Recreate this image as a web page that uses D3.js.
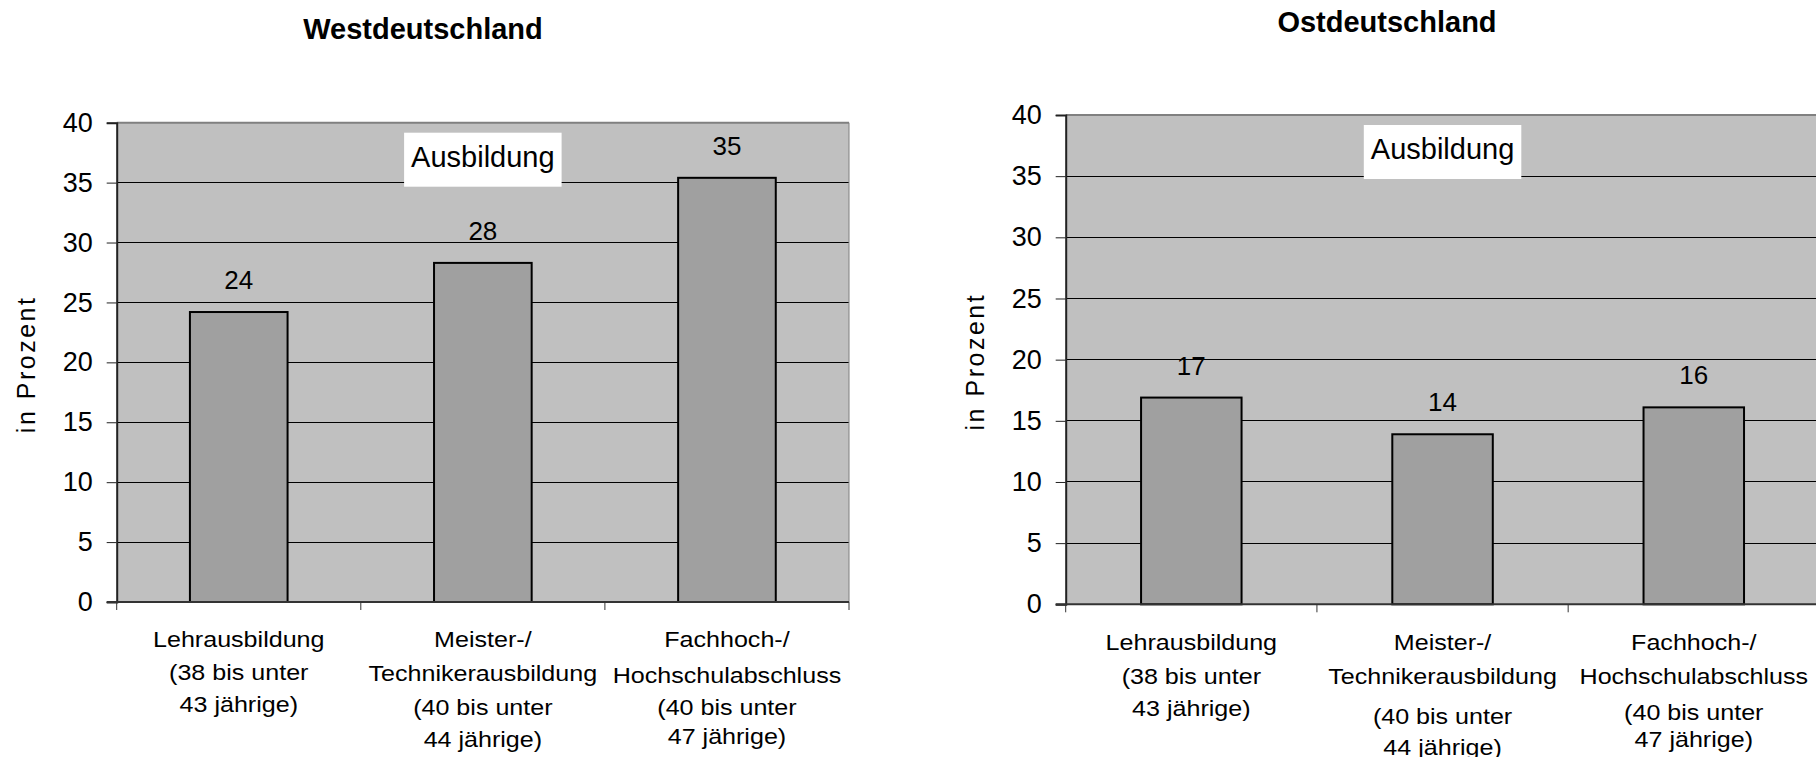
<!DOCTYPE html>
<html>
<head>
<meta charset="utf-8">
<script src="https://cdn.jsdelivr.net/npm/d3@7"></script>
<style>
  html, body { margin: 0; padding: 0; background: #fff; }
  svg { display: block; }
  text { font-family: "Liberation Sans", Arial, Helvetica, sans-serif; fill: #000; }
</style>
</head>
<body>
<svg id="chart" width="1816" height="757"></svg>
<script>
// ---------------- data ----------------
const categories = ["Lehrausbildung", "Meister-/Technikerausbildung", "Fachhoch-/Hochschulabschluss"];
const categoryNameLines = [["Lehrausbildung"], ["Meister-/", "Technikerausbildung"], ["Fachhoch-/", "Hochschulabschluss"]];
const categoryAgeLines = [["(38 bis unter", "43 jährige)"], ["(40 bis unter", "44 jährige)"], ["(40 bis unter", "47 jährige)"]];
const westValues = [24.2, 28.3, 35.4];
const ostValues = [16.9, 13.9, 16.1];
const yTicks = [0, 5, 10, 15, 20, 25, 30, 35, 40];
const yDomain = [0, 40];
const yAxisTitle = "in Prozent";
const boxLabel = "Ausbildung";
const titles = ["Westdeutschland", "Ostdeutschland"];

// ---------------- layout ----------------
const panels = [
  { title: titles[0], values: westValues, titleX: 423, titleY: 39,
    x0: 116.7, x1: 849, yTop: 122.7, yZero: 602,
    lineY: [[647, 680, 712], [647, 681, 715, 747], [647, 683, 715, 744]] },
  { title: titles[1], values: ostValues, titleX: 1387, titleY: 31.5,
    x0: 1065.7, x1: 1819.4, yTop: 115, yZero: 604.3,
    lineY: [[650, 684, 716], [650, 684, 724, 755], [650, 684, 720, 747]] }
];

const svg = d3.select("#chart");
const fmt = d3.format(".0f");

panels.forEach(p => {
  const g = svg.append("g");
  const x = d3.scaleBand().domain(categories).range([p.x0, p.x1])
    .paddingInner(0.6).paddingOuter(0.3);
  const y = d3.scaleLinear().domain(yDomain).range([p.yZero, p.yTop]);
  const step = x.step();
  const plotW = p.x1 - p.x0;

  // title
  g.append("text").attr("x", p.titleX).attr("y", p.titleY)
    .attr("text-anchor", "middle").attr("font-weight", "bold")
    .attr("font-size", 29).text(p.title);

  // plot background
  g.append("rect").attr("x", p.x0).attr("y", y(40))
    .attr("width", plotW).attr("height", y(0) - y(40))
    .attr("fill", "#c0c0c0");

  // gridlines
  g.append("g").selectAll("line").data(yTicks.filter(t => t > 0 && t < 40)).join("line")
    .attr("x1", p.x0).attr("x2", p.x1)
    .attr("y1", d => y(d)).attr("y2", d => y(d))
    .attr("stroke", "#000").attr("stroke-width", 1).attr("shape-rendering", "crispEdges");

  // top & right border
  g.append("line").attr("x1", p.x0).attr("x2", p.x1).attr("y1", y(40)).attr("y2", y(40))
    .attr("stroke", "#808080").attr("stroke-width", 2);
  g.append("line").attr("x1", p.x1).attr("x2", p.x1).attr("y1", y(40)).attr("y2", y(0))
    .attr("stroke", "#808080").attr("stroke-width", 1);

  // bars
  g.append("g").selectAll("rect").data(p.values).join("rect")
    .attr("x", (d, i) => x(categories[i]))
    .attr("width", x.bandwidth())
    .attr("y", d => y(d))
    .attr("height", d => y(0) - y(d))
    .attr("fill", "#a0a0a0").attr("stroke", "#000").attr("stroke-width", 2);

  // data labels
  g.append("g").selectAll("text").data(p.values).join("text")
    .attr("x", (d, i) => x(categories[i]) + x.bandwidth() / 2)
    .attr("y", d => y(d) - 23)
    .attr("text-anchor", "middle").attr("font-size", 26)
    .text(d => fmt(d));

  // y axis
  const yAxis = d3.axisLeft(y).tickValues(yTicks).tickSize(10).tickPadding(14).tickFormat(d3.format("d"));
  const ya = g.append("g").attr("transform", `translate(${p.x0},0)`).call(yAxis);
  ya.select(".domain").attr("stroke", "#222").attr("stroke-width", 2);
  ya.selectAll(".tick line").attr("stroke", "#222").attr("stroke-width", 1);
  ya.selectAll(".tick text").attr("font-size", 27).attr("font-family", null).attr("fill", "#000");

  // zero line + category boundary ticks
  g.append("line").attr("x1", p.x0 - 10).attr("x2", p.x1).attr("y1", y(0)).attr("y2", y(0))
    .attr("stroke", "#333").attr("stroke-width", 2);
  g.append("g").selectAll("line").data(d3.range(categories.length + 1)).join("line")
    .attr("x1", i => p.x0 + i * step).attr("x2", i => p.x0 + i * step)
    .attr("y1", y(0)).attr("y2", y(0) + 8)
    .attr("stroke", "#333").attr("stroke-width", 1);

  // category labels
  categories.forEach((c, i) => {
    const lines = categoryNameLines[i].concat(categoryAgeLines[i]);
    const cx = x(c) + x.bandwidth() / 2;
    lines.forEach((ln, j) => {
      g.append("text")
        .attr("transform", `translate(${cx},${p.lineY[i][j]}) scale(1.14,1)`)
        .attr("text-anchor", "middle").attr("font-size", 22)
        .text(ln);
    });
  });

  // y axis title
  g.append("text")
    .attr("transform", `translate(${p.x0 - 82},${(y(0) + y(40)) / 2 + 2}) rotate(-90)`)
    .attr("text-anchor", "middle").attr("font-size", 25)
    .attr("letter-spacing", 2.5)
    .text(yAxisTitle);

  // "Ausbildung" box
  const bx = x(categories[1]) + x.bandwidth() / 2;
  const by = y(40) + 10;
  const box = g.append("g");
  const t = box.append("text").attr("x", bx).attr("y", by + 34)
    .attr("text-anchor", "middle").attr("font-size", 29).text(boxLabel);
  const bb = t.node().getBBox();
  box.insert("rect", "text")
    .attr("x", bb.x - 7).attr("y", by)
    .attr("width", bb.width + 14).attr("height", 54)
    .attr("fill", "#fff");
});
</script>
</body>
</html>
